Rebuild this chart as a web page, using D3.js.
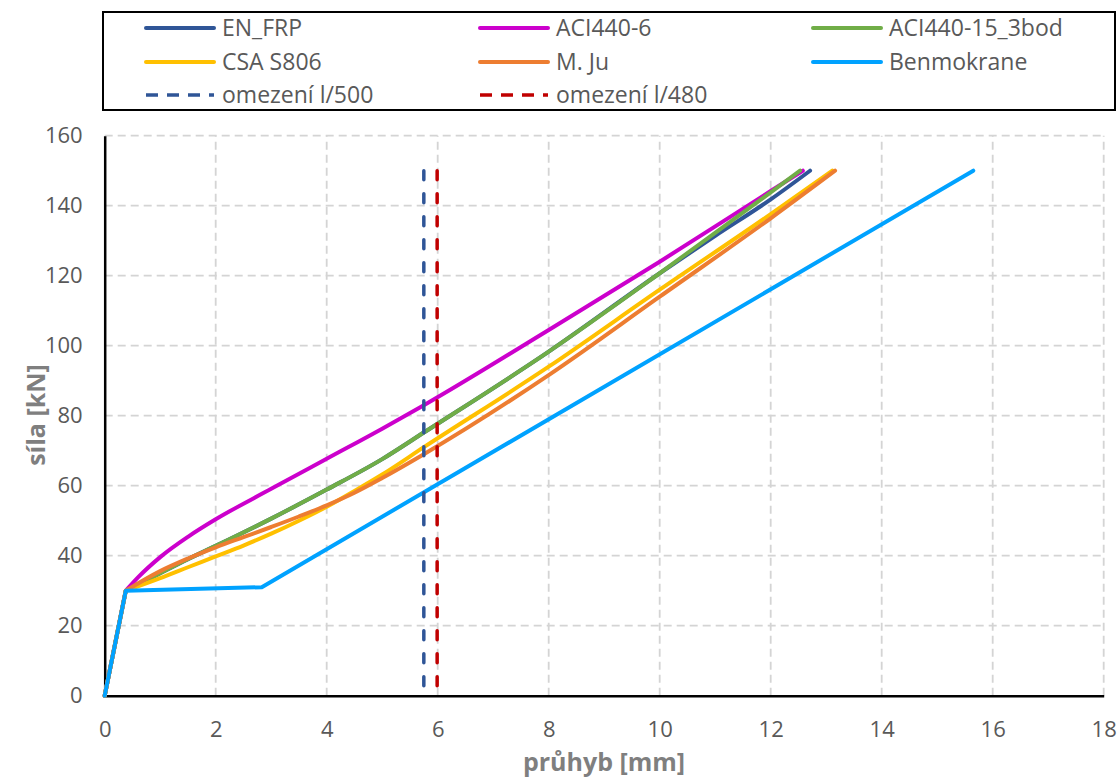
<!DOCTYPE html>
<html>
<head>
<meta charset="utf-8">
<script src="https://cdn.jsdelivr.net/npm/d3@7"></script>
<style>
  html, body { margin: 0; padding: 0; background: #fff; }
  svg { display: block; font-family: "Open Sans", "Noto Sans", sans-serif; }
</style>
</head>
<body>
<svg id="chart" width="1120" height="778"></svg>
<script>
// Load–deflection curves: deflection [mm] vs. force [kN]
const xTicks = [0, 2, 4, 6, 8, 10, 12, 14, 16, 18];
const yTicks = [0, 20, 40, 60, 80, 100, 120, 140, 160];

const enFrp = [[0,0],[0.38,30],[1,35],[1.5,39],[2,42.8],[3,50.6],[4,58.9],[5,67.6],[5.75,75.2],[8,98.3],[10,120.7],[11,131.4],[12,141.8],[12.71,150]];
const aci440_6 = [[0,0],[0.38,30],[0.6,33.8],[1,39.6],[1.5,45.4],[2,50.4],[3,59.1],[4,67.7],[5,76.3],[5.75,83],[8,104.5],[10,124],[12,144.2],[12.58,150]];
const aci440_15 = [[0,0],[0.38,30],[1,35],[1.5,39],[2,42.8],[3,50.6],[4,58.9],[5,67.6],[5.75,75.2],[8,98.3],[10,120.7],[12,143.8],[12.53,150]];
const csaS806 = [[0,0],[0.38,30],[1,33.6],[1.5,36.7],[2,39.8],[2.5,42.9],[3,46.3],[3.5,50],[4,54],[4.5,58.5],[5,63.2],[5.75,71],[8,94],[10,116],[12,137.6],[13.11,150]];
const mJu = [[0,0],[0.38,30],[1,35.6],[1.5,39.2],[2,42.4],[2.5,45.3],[3,48.2],[3.5,51.2],[4,54.4],[4.5,58],[5,62.2],[5.75,69],[8,91.6],[10,114],[12,136.4],[13.16,150]];
const benmokrane = [[0,0],[0.38,30],[2.83,31],[15.65,150]];

// serviceability deflection limits l/500 and l/480
const limit500 = [[5.75,150],[5.75,0]];
const limit480 = [[5.99,150],[5.99,0]];

const series = [
  {name: "EN_FRP", data: enFrp, color: "#2F5597", smooth: true},
  {name: "ACI440-6", data: aci440_6, color: "#CC00CC", smooth: true},
  {name: "ACI440-15_3bod", data: aci440_15, color: "#70AD47", smooth: true},
  {name: "CSA S806", data: csaS806, color: "#FFC000", smooth: true},
  {name: "M. Ju", data: mJu, color: "#ED7D31", smooth: true},
  {name: "Benmokrane", data: benmokrane, color: "#00A2FF", smooth: false}
];
const limits = [
  {name: "omezení l/500", data: limit500, color: "#2F5597"},
  {name: "omezení l/480", data: limit480, color: "#C00000"}
];

const svg = d3.select("#chart");
const x = d3.scaleLinear().domain([0, 18]).range([104.7, 1103.7]);
const y = d3.scaleLinear().domain([0, 160]).range([695.7, 135.7]);

// grid
const grid = svg.append("g");
grid.selectAll("line.h").data(yTicks.filter(d => d > 0)).join("line")
  .attr("x1", x(0)).attr("x2", x(18))
  .attr("y1", d => y(d)).attr("y2", d => y(d))
  .attr("stroke", "#d4d4d4").attr("stroke-width", 1.8).attr("stroke-dasharray", "8,5");
grid.selectAll("line.v").data(xTicks.filter(d => d > 0)).join("line")
  .attr("x1", d => x(d)).attr("x2", d => x(d))
  .attr("y1", y(0)).attr("y2", y(160))
  .attr("stroke", "#d4d4d4").attr("stroke-width", 1.8).attr("stroke-dasharray", "8,5");

// axes
const xAxis = svg.append("g").attr("transform", `translate(0,${y(0)})`)
  .call(d3.axisBottom(x).tickValues(xTicks).tickSize(0).tickPadding(26).tickFormat(d3.format("d")));
const yAxis = svg.append("g").attr("transform", `translate(${x(0)},0)`)
  .call(d3.axisLeft(y).tickValues(yTicks).tickSize(0).tickPadding(22).tickFormat(d3.format("d")));
[xAxis, yAxis].forEach(g => {
  g.select(".domain").attr("stroke", "#000").attr("stroke-width", 2.5);
  g.selectAll("text").attr("font-size", 22).attr("fill", "#595959")
    .attr("font-family", "'Open Sans', sans-serif");
});

// curves: straight uncracked branch, then smooth cracked branch
const lineSmooth = d3.line().x(d => x(d[0])).y(d => y(d[1])).curve(d3.curveMonotoneX);
const lineStraight = d3.line().x(d => x(d[0])).y(d => y(d[1]));
function curvePath(s) {
  if (!s.smooth) return lineStraight(s.data);
  const head = s.data[0];
  const rest = lineSmooth(s.data.slice(1));
  return `M${x(head[0])},${y(head[1])}L` + rest.slice(1);
}
svg.append("g").selectAll("path").data(series).join("path")
  .attr("d", curvePath)
  .attr("fill", "none")
  .attr("stroke", d => d.color)
  .attr("stroke-width", 4)
  .attr("stroke-linejoin", "round")
  .attr("stroke-linecap", "round");

svg.append("g").selectAll("path").data(limits).join("path")
  .attr("d", d => lineStraight(d.data))
  .attr("fill", "none")
  .attr("stroke", d => d.color)
  .attr("stroke-width", 3.5)
  .attr("stroke-linecap", "round")
  .attr("stroke-dasharray", "9,14");

// axis titles
svg.append("text")
  .attr("x", 604).attr("y", 771)
  .attr("text-anchor", "middle")
  .attr("font-size", 25).attr("font-weight", "bold").attr("fill", "#7f7f7f")
  .text("průhyb [mm]");
svg.append("text")
  .attr("transform", "translate(45,415) rotate(-90)")
  .attr("text-anchor", "middle")
  .attr("font-size", 25).attr("font-weight", "bold").attr("fill", "#7f7f7f")
  .text("síla [kN]");

// legend
const legend = svg.append("g");
legend.append("rect")
  .attr("x", 103).attr("y", 12).attr("width", 1012).attr("height", 98)
  .attr("fill", "#fff").attr("stroke", "#000").attr("stroke-width", 2);
const colX = [146, 480, 813];
const rowY = [28, 62, 95];
const items = series.map(s => ({name: s.name, color: s.color, dash: null}))
  .concat(limits.map(l => ({name: l.name, color: l.color, dash: "12,9"})));
items.forEach((it, i) => {
  const cx = colX[i % 3], cy = rowY[Math.floor(i / 3)];
  legend.append("line")
    .attr("x1", cx).attr("x2", cx + 68).attr("y1", cy).attr("y2", cy)
    .attr("stroke", it.color).attr("stroke-width", it.dash ? 3.5 : 4)
    .attr("stroke-linecap", it.dash ? "butt" : "round")
    .attr("stroke-dasharray", it.dash);
  legend.append("text")
    .attr("x", cx + 76).attr("y", cy).attr("dy", "0.35em")
    .attr("font-size", 23).attr("fill", "#595959")
    .text(it.name);
});
</script>
</body>
</html>
